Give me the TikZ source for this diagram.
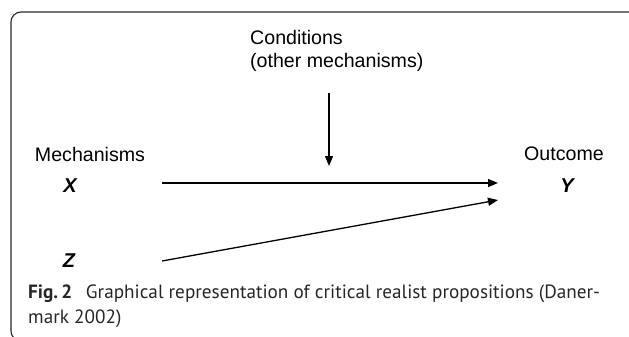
\documentclass[tikz,border=0pt]{standalone}
\usepackage{fontspec}
\setmainfont{Liberation Sans}
\newfontfamily\capfont{PT Sans}
\usetikzlibrary{arrows.meta}
\begin{document}
\begin{tikzpicture}[x=1pt,y=-1pt,
  lbl/.style={inner sep=0pt,font=\fontsize{19.6}{23.5}\selectfont},
  var/.style={inner sep=0pt,font=\fontsize{20}{23}\selectfont\bfseries\itshape},
  arr/.style={line width=1.3pt,-{Triangle[length=10pt,width=8pt]}},
  frame/.style={line width=1.1pt,draw=black!85,rounded corners=10pt},
  captxt/.style={inner sep=0pt,anchor=base west,font=\capfont\fontsize{19.2}{22}\selectfont,text=black!85}]
\useasboundingbox (0,0) rectangle (629,337);
\draw[frame] (640,60) -- (640,12) -- (11,12) -- (11,341) -- (60,341);
\node[lbl,anchor=west,align=left] (cond) at (250,51) {Conditions\\(other mechanisms)};
\node[lbl] (mech) at (90,154) {Mechanisms};
\node[lbl] (out) at (564,154) {Outcome};
\node[var] (x) at (70,186) {X};
\node[var] (y) at (567,186) {Y};
\node[var] (z) at (69,261) {Z};
\coordinate (xs) at (162,183);
\coordinate (xe) at (498,183);
\coordinate (zs) at (162,261);
\coordinate (ze) at (498,200);
\coordinate (cs) at (329,93);
\coordinate (ce) at (329,166);
\draw[arr] (xs) -- (xe);
\draw[arr] (zs) -- (ze);
\draw[arr] (cs) -- (ce);
\node[captxt] (cap1) at (28,298) {\textbf{Fig.\,2}\hspace{0.45em} Graphical representation of critical realist propositions (Daner-};
\node[captxt] (cap2) at (28,323) {mark 2002)};
\end{tikzpicture}
\end{document}
